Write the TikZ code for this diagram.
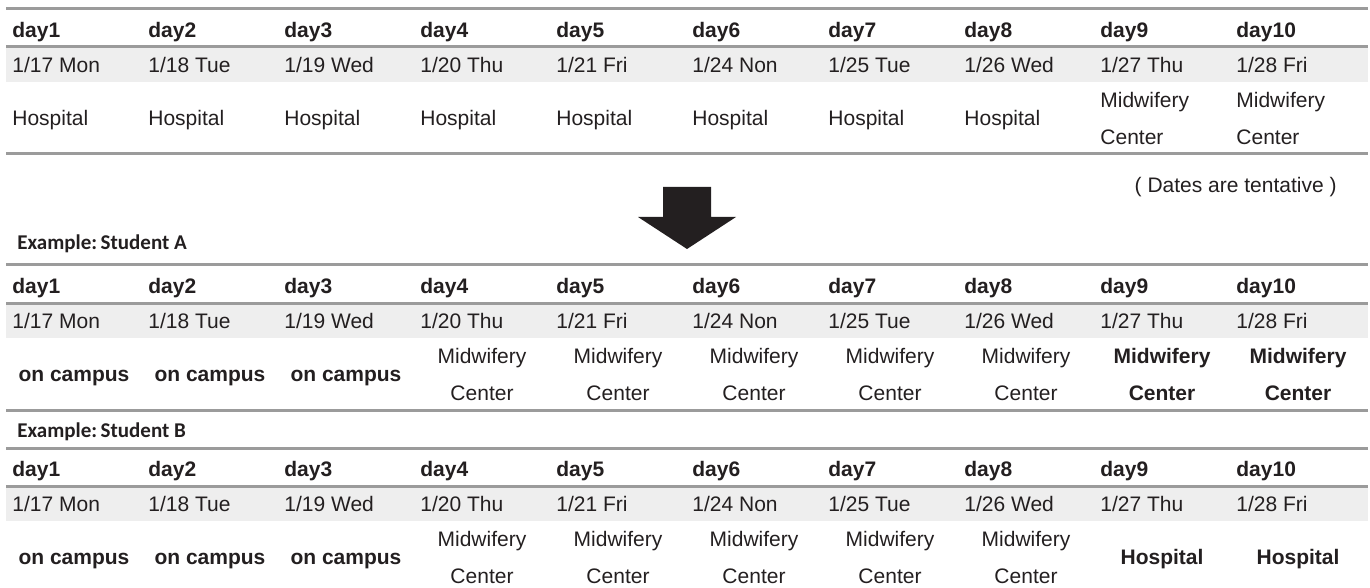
\documentclass[tikz,border=0pt]{standalone}
\usepackage{fontspec}
\setmainfont{Liberation Sans}
\newfontfamily\notefont{Carlito}
\definecolor{rulegray}{HTML}{9B9B9B}
\definecolor{bandgray}{HTML}{EEEEEE}
\definecolor{inkgray}{HTML}{231F20}
\tikzset{
  cell/.style={anchor=west,inner sep=0pt,text=inkgray,text height=7.5pt,text depth=0pt,
    font=\fontsize{10.5}{12}\selectfont},
  hdr/.style={cell,font=\fontsize{10.5}{12}\selectfont\bfseries},
  mcell/.style={cell,anchor=center},
  bcell/.style={hdr,anchor=center},
  note/.style={anchor=west,inner sep=0pt,text=inkgray,font=\notefont\fontsize{10.5}{12}\selectfont\bfseries},
  rule/.style={draw=rulegray,line width=1.5pt}
}
\begin{document}
\begin{tikzpicture}[x=0.5pt,y=-0.5pt]
    \useasboundingbox (0,0) rectangle (1370,588);

    % plan as given
    \fill[bandgray] (6,47) rectangle (1368,82);
    \draw[rule] (6,9) -- (1368,9);
    \draw[rule] (6,47) -- (1368,47);
    \draw[rule] (6,154) -- (1368,154);
    \foreach \i in {1,...,10}
        \node[hdr] (p\i) at ({12+136*(\i-1)},30) {day\i};
    \foreach \d [count=\i] in {1/17 Mon,1/18 Tue,1/19 Wed,1/20 Thu,1/21 Fri,1/24 Non,1/25 Tue,1/26 Wed,1/27 Thu,1/28 Fri}
        \node[cell] (pd\i) at ({12+136*(\i-1)},65) {\d};
    \foreach \i in {1,...,8}
        \node[cell] (pw\i) at ({12+136*(\i-1)},118) {Hospital};
    \foreach \i in {9,10} {
        \node[cell] (pm\i) at ({12+136*(\i-1)},100) {Midwifery};
        \node[cell] (pc\i) at ({12+136*(\i-1)},137) {Center};
    }
    \node[cell,anchor=east] (tent) at (1337,185) {( Dates are tentative )};

    \fill[inkgray] (663,187) -- (711,187) -- (711,217) -- (736,217) -- (687,249)
        -- (638,217) -- (663,217) -- cycle;

    % student A
    \node[note] (labA) at (17,244) {Example:\,Student A};
    \fill[bandgray] (6,303) rectangle (1368,338);
    \draw[rule] (6,265) -- (1368,265);
    \draw[rule] (6,303) -- (1368,303);
    \draw[rule] (6,410) -- (1368,410);
    \foreach \i in {1,...,10}
        \node[hdr] (a\i) at ({12+136*(\i-1)},286) {day\i};
    \foreach \d [count=\i] in {1/17 Mon,1/18 Tue,1/19 Wed,1/20 Thu,1/21 Fri,1/24 Non,1/25 Tue,1/26 Wed,1/27 Thu,1/28 Fri}
        \node[cell] (ad\i) at ({12+136*(\i-1)},321) {\d};
    \foreach \i in {1,2,3}
        \node[bcell] (aw\i) at ({74+136*(\i-1)},374) {on campus};
    \foreach \i in {4,...,8} {
        \node[mcell] (am\i) at ({74+136*(\i-1)},356) {Midwifery};
        \node[mcell] (ac\i) at ({74+136*(\i-1)},393) {Center};
    }
    \foreach \i in {9,10} {
        \node[bcell] (am\i) at ({74+136*(\i-1)},356) {Midwifery};
        \node[bcell] (ac\i) at ({74+136*(\i-1)},393) {Center};
    }

    % student B
    \node[note] (labB) at (17,432) {Example:\,Student B};
    \fill[bandgray] (6,486) rectangle (1368,521);
    \draw[rule] (6,448) -- (1368,448);
    \draw[rule] (6,486) -- (1368,486);
    \foreach \i in {1,...,10}
        \node[hdr] (b\i) at ({12+136*(\i-1)},469) {day\i};
    \foreach \d [count=\i] in {1/17 Mon,1/18 Tue,1/19 Wed,1/20 Thu,1/21 Fri,1/24 Non,1/25 Tue,1/26 Wed,1/27 Thu,1/28 Fri}
        \node[cell] (bd\i) at ({12+136*(\i-1)},504) {\d};
    \foreach \i in {1,2,3}
        \node[bcell] (bw\i) at ({74+136*(\i-1)},557) {on campus};
    \foreach \i in {4,...,8} {
        \node[mcell] (bm\i) at ({74+136*(\i-1)},539) {Midwifery};
        \node[mcell] (bc\i) at ({74+136*(\i-1)},576) {Center};
    }
    \foreach \i in {9,10}
        \node[bcell] (bw\i) at ({74+136*(\i-1)},557) {Hospital};
\end{tikzpicture}
\end{document}
